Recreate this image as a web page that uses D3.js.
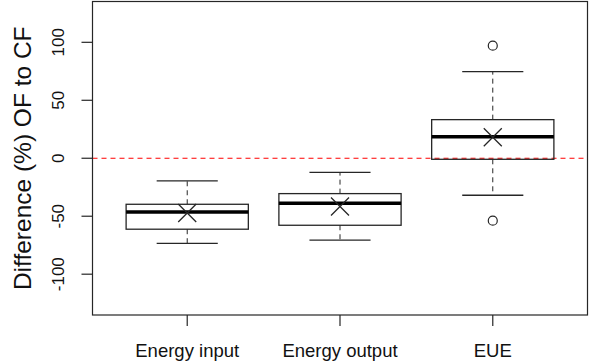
<!DOCTYPE html>
<html lang="en">
<head>
<meta charset="utf-8">
<title>Difference OF to CF</title>
<script src="https://d3js.org/d3.v7.min.js"></script>
<style>
  body { margin: 0; background: #fff; }
  svg { display: block; font-family: "Liberation Sans", Arial, sans-serif; }
</style>
</head>
<body>
<div id="chart"></div>
<script>
// values
var categories = ["Energy input", "Energy output", "EUE"];
var whiskerLow = [-73.5, -70.7, -31.9];
var q1 = [-61.2, -57.8, -0.9];
var medians = [-46.3, -38.8, 18.6];
var q3 = [-39.7, -30.5, 33.3];
var whiskerHigh = [-19.6, -12.1, 74.7];
var means = [-47.2, -41.6, 18.1];
var outliers = [[], [], [97.1, -53.8]];
var yTicks = [-100, -50, 0, 50, 100];

var W = 590, H = 363;
var plot = {left: 92.5, right: 587.5, top: 1.5, bottom: 315};

var svg = d3.select("#chart").append("svg")
    .attr("width", W)
    .attr("height", H);

// R style: range extended by 4%
var x = d3.scaleLinear()
    .domain([0.38, 3.62])
    .range([plot.left, plot.right]);
var y = d3.scaleLinear()
    .domain([-135.2, 135.2])
    .range([plot.bottom, plot.top]);

var data = categories.map(function(c, i) {
  return {name: c, pos: i + 1, lo: whiskerLow[i], q1: q1[i], med: medians[i],
          q3: q3[i], hi: whiskerHigh[i], mean: means[i], out: outliers[i]};
});

var ink = "#262626";

// reference line at 0
svg.append("line")
    .attr("x1", plot.left).attr("x2", plot.right)
    .attr("y1", y(0)).attr("y2", y(0))
    .attr("stroke", "#f00")
    .attr("stroke-width", 1.2)
    .attr("stroke-dasharray", "5,4");

var g = svg.selectAll(".box")
    .data(data)
    .enter().append("g")
    .attr("class", "box");

// whiskers (dashed)
g.append("line")
    .attr("x1", function(d) { return x(d.pos); })
    .attr("x2", function(d) { return x(d.pos); })
    .attr("y1", function(d) { return y(d.q3); })
    .attr("y2", function(d) { return y(d.hi); })
    .attr("stroke", ink).attr("stroke-dasharray", "5,4");
g.append("line")
    .attr("x1", function(d) { return x(d.pos); })
    .attr("x2", function(d) { return x(d.pos); })
    .attr("y1", function(d) { return y(d.q1); })
    .attr("y2", function(d) { return y(d.lo); })
    .attr("stroke", ink).attr("stroke-dasharray", "5,4");

// staples
["hi", "lo"].forEach(function(k) {
  g.append("line")
      .attr("x1", function(d) { return x(d.pos - 0.2); })
      .attr("x2", function(d) { return x(d.pos + 0.2); })
      .attr("y1", function(d) { return y(d[k]); })
      .attr("y2", function(d) { return y(d[k]); })
      .attr("stroke", ink).attr("stroke-width", 1.3);
});

// boxes
g.append("rect")
    .attr("x", function(d) { return x(d.pos - 0.4); })
    .attr("width", function(d) { return x(d.pos + 0.4) - x(d.pos - 0.4); })
    .attr("y", function(d) { return y(d.q3); })
    .attr("height", function(d) { return y(d.q1) - y(d.q3); })
    .attr("fill", "none")
    .attr("stroke", ink)
    .attr("stroke-width", 1.3);

// medians
g.append("line")
    .attr("x1", function(d) { return x(d.pos - 0.4); })
    .attr("x2", function(d) { return x(d.pos + 0.4); })
    .attr("y1", function(d) { return y(d.med); })
    .attr("y2", function(d) { return y(d.med); })
    .attr("stroke", "#000")
    .attr("stroke-width", 3.5);

// mean markers (x)
var s = 9;
g.append("path")
    .attr("d", function(d) {
      var cx = x(d.pos), cy = y(d.mean);
      return "M" + (cx - s) + "," + (cy - s) + "L" + (cx + s) + "," + (cy + s) +
             "M" + (cx - s) + "," + (cy + s) + "L" + (cx + s) + "," + (cy - s);
    })
    .attr("stroke", ink)
    .attr("stroke-width", 1.3)
    .attr("fill", "none");

// outliers
g.selectAll("circle")
    .data(function(d) { return d.out.map(function(v) { return {pos: d.pos, v: v}; }); })
    .enter().append("circle")
    .attr("cx", function(d) { return x(d.pos); })
    .attr("cy", function(d) { return y(d.v); })
    .attr("r", 4.5)
    .attr("fill", "none")
    .attr("stroke", ink)
    .attr("stroke-width", 1.2);

// frame
svg.append("rect")
    .attr("x", plot.left).attr("y", plot.top)
    .attr("width", plot.right - plot.left)
    .attr("height", plot.bottom - plot.top)
    .attr("fill", "none")
    .attr("stroke", ink)
    .attr("stroke-width", 1.2);

// y axis ticks
var yAxis = svg.append("g");
yAxis.selectAll("line")
    .data(yTicks)
    .enter().append("line")
    .attr("x1", plot.left - 11).attr("x2", plot.left)
    .attr("y1", function(d) { return y(d); })
    .attr("y2", function(d) { return y(d); })
    .attr("stroke", ink).attr("stroke-width", 1.2);
yAxis.selectAll("text")
    .data(yTicks)
    .enter().append("text")
    .attr("transform", function(d) { return "translate(64," + y(d) + ") rotate(-90)"; })
    .attr("text-anchor", "middle")
    .style("font-size", "17px")
    .attr("fill", "#111")
    .text(function(d) { return d; });

// x axis ticks
var xAxis = svg.append("g");
xAxis.selectAll("line")
    .data(data)
    .enter().append("line")
    .attr("x1", function(d) { return x(d.pos); })
    .attr("x2", function(d) { return x(d.pos); })
    .attr("y1", plot.bottom).attr("y2", plot.bottom + 11)
    .attr("stroke", ink).attr("stroke-width", 1.2);
xAxis.selectAll("text")
    .data(data)
    .enter().append("text")
    .attr("x", function(d) { return x(d.pos); })
    .attr("y", 357)
    .attr("text-anchor", "middle")
    .style("font-size", "18.5px")
    .attr("fill", "#111")
    .text(function(d) { return d.name; });

// y axis title
svg.append("text")
    .attr("transform", "translate(31," + ((plot.top + plot.bottom) / 2) + ") rotate(-90)")
    .attr("text-anchor", "middle")
    .style("font-size", "24.5px")
    .attr("fill", "#111")
    .text("Difference (%) OF to CF");
</script>
</body>
</html>
